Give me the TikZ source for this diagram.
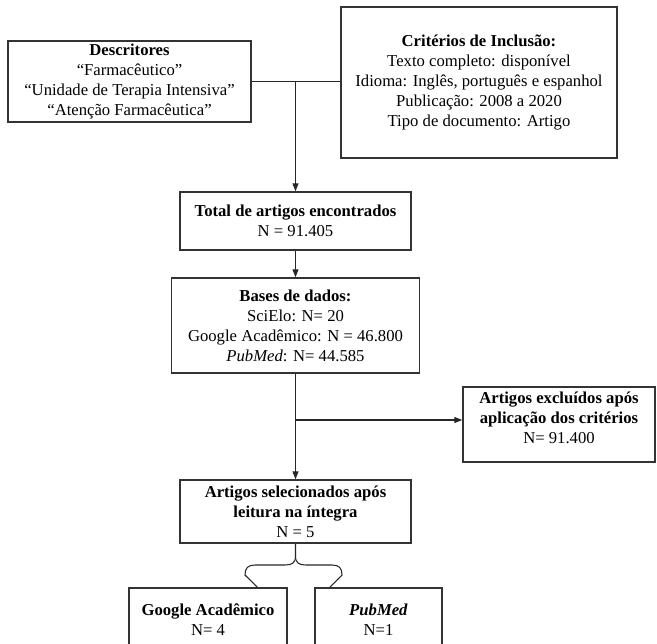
\documentclass[tikz,border=0pt]{standalone}
\usepackage{fontspec}
\setmainfont{Liberation Serif}
\usepackage{tikz}
\usetikzlibrary{arrows.meta, calc}
\newcommand{\pxu}{0.75pt}

\begin{document}
\begin{tikzpicture}[x=0.75pt, y=-0.75pt,
  font=\fontsize{12.5}{15}\selectfont,
  box/.style={rectangle, draw=black!80, line width=1.1pt, align=center,
              inner sep=0pt},
  arr/.style={-{Triangle[length=6pt, width=4.5pt]}, line width=0.8pt,
              draw=black!85},
  lnk/.style={line width=0.8pt, draw=black!85},
]
\useasboundingbox (0,0) rectangle (657,643);
\clip (0,0) rectangle (657,643);
% ---------------- search terms and criteria
\node[box, minimum width=243*\pxu, minimum height=81*\pxu] (desc) at (129.5,81.5)
  {\textbf{Descritores}\\“Farmacêutico”\\“Unidade de Terapia Intensiva”\\“Atenção Farmacêutica”};
\node[box, minimum width=276*\pxu, minimum height=151*\pxu] (crit) at (479,82.5)
  {\textbf{Critérios de Inclusão:}\\Texto completo: disponível\\Idioma: Inglês, português e espanhol\\Publicação: 2008 a 2020\\Tipo de documento: Artigo};
% ---------------- main column
\node[box, minimum width=231*\pxu, minimum height=58*\pxu] (total) at (295.5,221)
  {\textbf{Total de artigos encontrados}\\N = 91.405};
\node[box, minimum width=248*\pxu, minimum height=95*\pxu] (bases) at (295.5,325.5)
  {\textbf{Bases de dados:}\\SciElo: N= 20\\Google Acadêmico: N = 46.800\\\textit{PubMed}: N= 44.585};
\node[box, minimum width=192*\pxu, minimum height=75*\pxu, text depth=10pt] (excl) at (559,424.5)
  {\textbf{Artigos excluídos após}\\\textbf{aplicação dos critérios}\\N= 91.400};
\node[box, minimum width=231*\pxu, minimum height=63*\pxu] (sel) at (295.5,511.5)
  {\textbf{Artigos selecionados após}\\\textbf{leitura na íntegra}\\N = 5};
% ---------------- split by database
\node[box, minimum width=158*\pxu, minimum height=63*\pxu] (google) at (208,619.5)
  {\textbf{Google Acadêmico}\\N= 4};
\node[box, minimum width=127*\pxu, minimum height=63*\pxu] (pubmed) at (378.5,619.5)
  {\textbf{\textit{PubMed}}\\N=1};
% ---------------- connectors
\coordinate (j1) at (desc.east -| total.north);
\coordinate (j2) at (295.5,420);
\coordinate (bL) at ([xshift=37]google.north);
\coordinate (bR) at ([xshift=-36.5]pubmed.north);
\draw[lnk] (desc.east) -- (desc.east -| crit.west);
\draw[arr] (j1) -- (total.north);
\draw[arr] (total.south) -- (bases.north);
\draw[arr] (bases.south) -- (sel.north);
\draw[arr] (j2) -- (j2 -| excl.west);
\draw[lnk] (bL) -- (245,575) .. controls (245,568) and (248,565) .. (255,565)
  -- (285,565) .. controls (292,565) and (295.5,563) .. (295.5,556) -- (sel.south);
\draw[lnk] (bR) -- (342,575) .. controls (342,568) and (339,565) .. (332,565)
  -- (306,565) .. controls (299,565) and (295.5,563) .. (295.5,556);
\end{tikzpicture}
\end{document}
